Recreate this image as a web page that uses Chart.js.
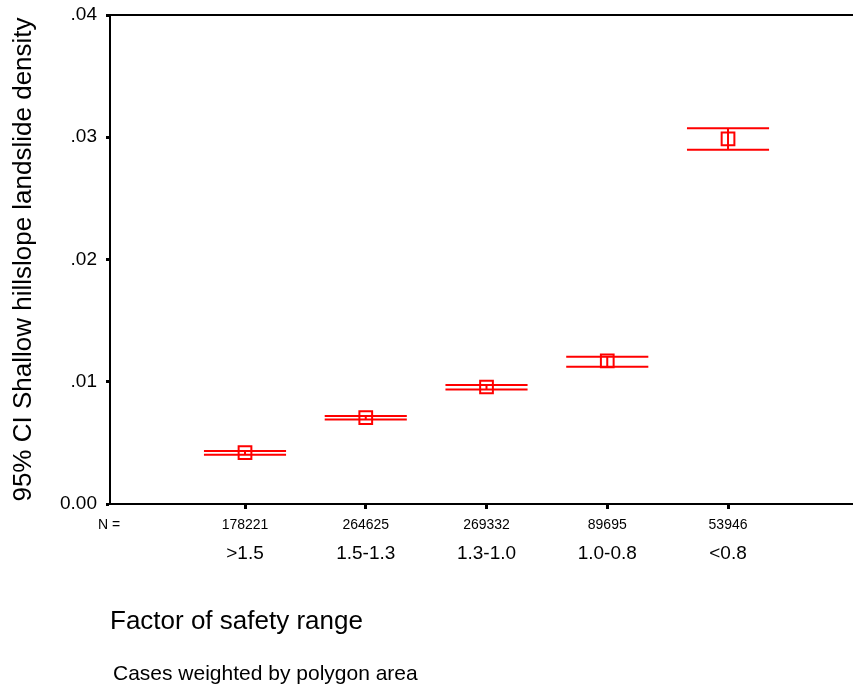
<!DOCTYPE html>
<html>
<head>
<meta charset="utf-8">
<script src="https://cdn.jsdelivr.net/npm/chart.js@4"></script>
<style>
  body { margin: 0; background: #fff; }
  canvas { display: block; }
</style>
</head>
<body>
<canvas id="grafico" width="853" height="688"></canvas>
<script>
let categorias = ['>1.5', '1.5-1.3', '1.3-1.0', '1.0-0.8', '<0.8']
let casos = ['178221', '264625', '269332', '89695', '53946']
let medias = [0.0042, 0.00706, 0.00957, 0.0117, 0.02986]
let superior = [0.00434, 0.0072, 0.00973, 0.01205, 0.03073]
let inferior = [0.00403, 0.00691, 0.00937, 0.01123, 0.02898]
let marcasY = [0, 0.01, 0.02, 0.03, 0.04]

let fuente = "'Liberation Sans', Arial, sans-serif"
let rojo = '#ff0000'

// sin relleno extra de las escalas, el area queda donde la pone el layout
let sinRelleno = s => {
  s.paddingTop = 0; s.paddingBottom = 0
  s.paddingLeft = 0; s.paddingRight = 0
}

// barras de error (bigotes + linea vertical) y textos sueltos
let extras = {
  id: 'extras',
  afterDatasetsDraw(chart) {
    let ctx = chart.ctx
    let x = chart.scales.x
    let y = chart.scales.y
    ctx.save()
    ctx.strokeStyle = rojo
    ctx.lineWidth = 2
    categorias.forEach((c, i) => {
      let xi = x.getPixelForValue(i)
      let x0 = x.getPixelForValue(i - 0.34)
      let x1 = x.getPixelForValue(i + 0.34)
      let ys = y.getPixelForValue(superior[i])
      let yi = y.getPixelForValue(inferior[i])
      ctx.beginPath()
      ctx.moveTo(x0, ys); ctx.lineTo(x1, ys)
      ctx.moveTo(x0, yi); ctx.lineTo(x1, yi)
      ctx.moveTo(xi, ys); ctx.lineTo(xi, yi)
      ctx.stroke()
    })
    ctx.restore()
  },
  afterDraw(chart) {
    let ctx = chart.ctx
    let area = chart.chartArea
    ctx.save()
    // linea superior del marco
    ctx.strokeStyle = 'black'
    ctx.lineWidth = 2
    ctx.beginPath()
    ctx.moveTo(area.left - 1, area.top)
    ctx.lineTo(area.right, area.top)
    ctx.stroke()
    ctx.fillStyle = 'black'
    ctx.textBaseline = 'middle'
    ctx.font = '14px ' + fuente
    ctx.fillText('N =', 98, 525)
    ctx.font = '21px ' + fuente
    ctx.fillText('Cases weighted by polygon area', 113, 674)
    ctx.restore()
  }
}

let grafico = new Chart(document.getElementById('grafico'), {
  type: 'scatter',
  data: {
    datasets: [{
      label: 'Media',
      data: medias.map((m, i) => ({ x: i, y: m })),
      pointStyle: 'rect',
      pointRadius: 9,
      pointBorderWidth: 2,
      pointBorderColor: rojo,
      pointBackgroundColor: 'rgba(0,0,0,0)'
    }]
  },
  options: {
    responsive: false,
    animation: false,
    layout: { autoPadding: false, padding: { top: 15, right: 0, bottom: 0, left: 0 } },
    plugins: {
      legend: { display: false },
      tooltip: { enabled: false }
    },
    scales: {
      x: {
        type: 'linear',
        position: 'bottom',
        min: -1.118,
        max: 5.035,
        afterBuildTicks: s => { s.ticks = categorias.map((c, i) => ({ value: i })) },
        afterFit: s => { s.height = 30; sinRelleno(s) },
        ticks: {
          callback: v => casos[v],
          color: 'black',
          font: { family: fuente, size: 14 },
          padding: 8,
          maxRotation: 0
        },
        grid: { drawOnChartArea: false, tickLength: 5, tickColor: 'black', tickWidth: 3 },
        border: { color: 'black', width: 2 }
      },
      x2: {
        type: 'linear',
        position: 'bottom',
        min: -1.118,
        max: 5.035,
        afterBuildTicks: s => { s.ticks = categorias.map((c, i) => ({ value: i })) },
        afterFit: s => { s.height = 154; sinRelleno(s) },
        ticks: {
          callback: v => categorias[v],
          color: 'black',
          font: { family: fuente, size: 19 },
          padding: 8,
          maxRotation: 0
        },
        grid: { display: false, drawTicks: false },
        border: { display: false },
        title: {
          display: true,
          text: 'Factor of safety range',
          align: 'start',
          color: 'black',
          font: { family: fuente, size: 26 },
          padding: { top: 0, bottom: 51 }
        }
      },
      y: {
        min: 0,
        max: 0.04,
        afterBuildTicks: s => { s.ticks = marcasY.map(v => ({ value: v })) },
        afterFit: s => { s.width = 110; sinRelleno(s) },
        ticks: {
          callback: v => v === 0 ? '0.00' : '.0' + Math.round(v * 100),
          color: 'black',
          font: { family: fuente, size: 19 },
          padding: 9
        },
        grid: { drawOnChartArea: false, tickLength: 4, tickColor: 'black', tickWidth: 3 },
        border: { color: 'black', width: 2 },
        title: {
          display: true,
          text: '95% CI Shallow hillslope landslide density',
          color: 'black',
          font: { family: fuente, size: 26, lineHeight: 1 },
          padding: { top: 11, bottom: 0 }
        }
      }
    }
  },
  plugins: [extras]
})
</script>
</body>
</html>
